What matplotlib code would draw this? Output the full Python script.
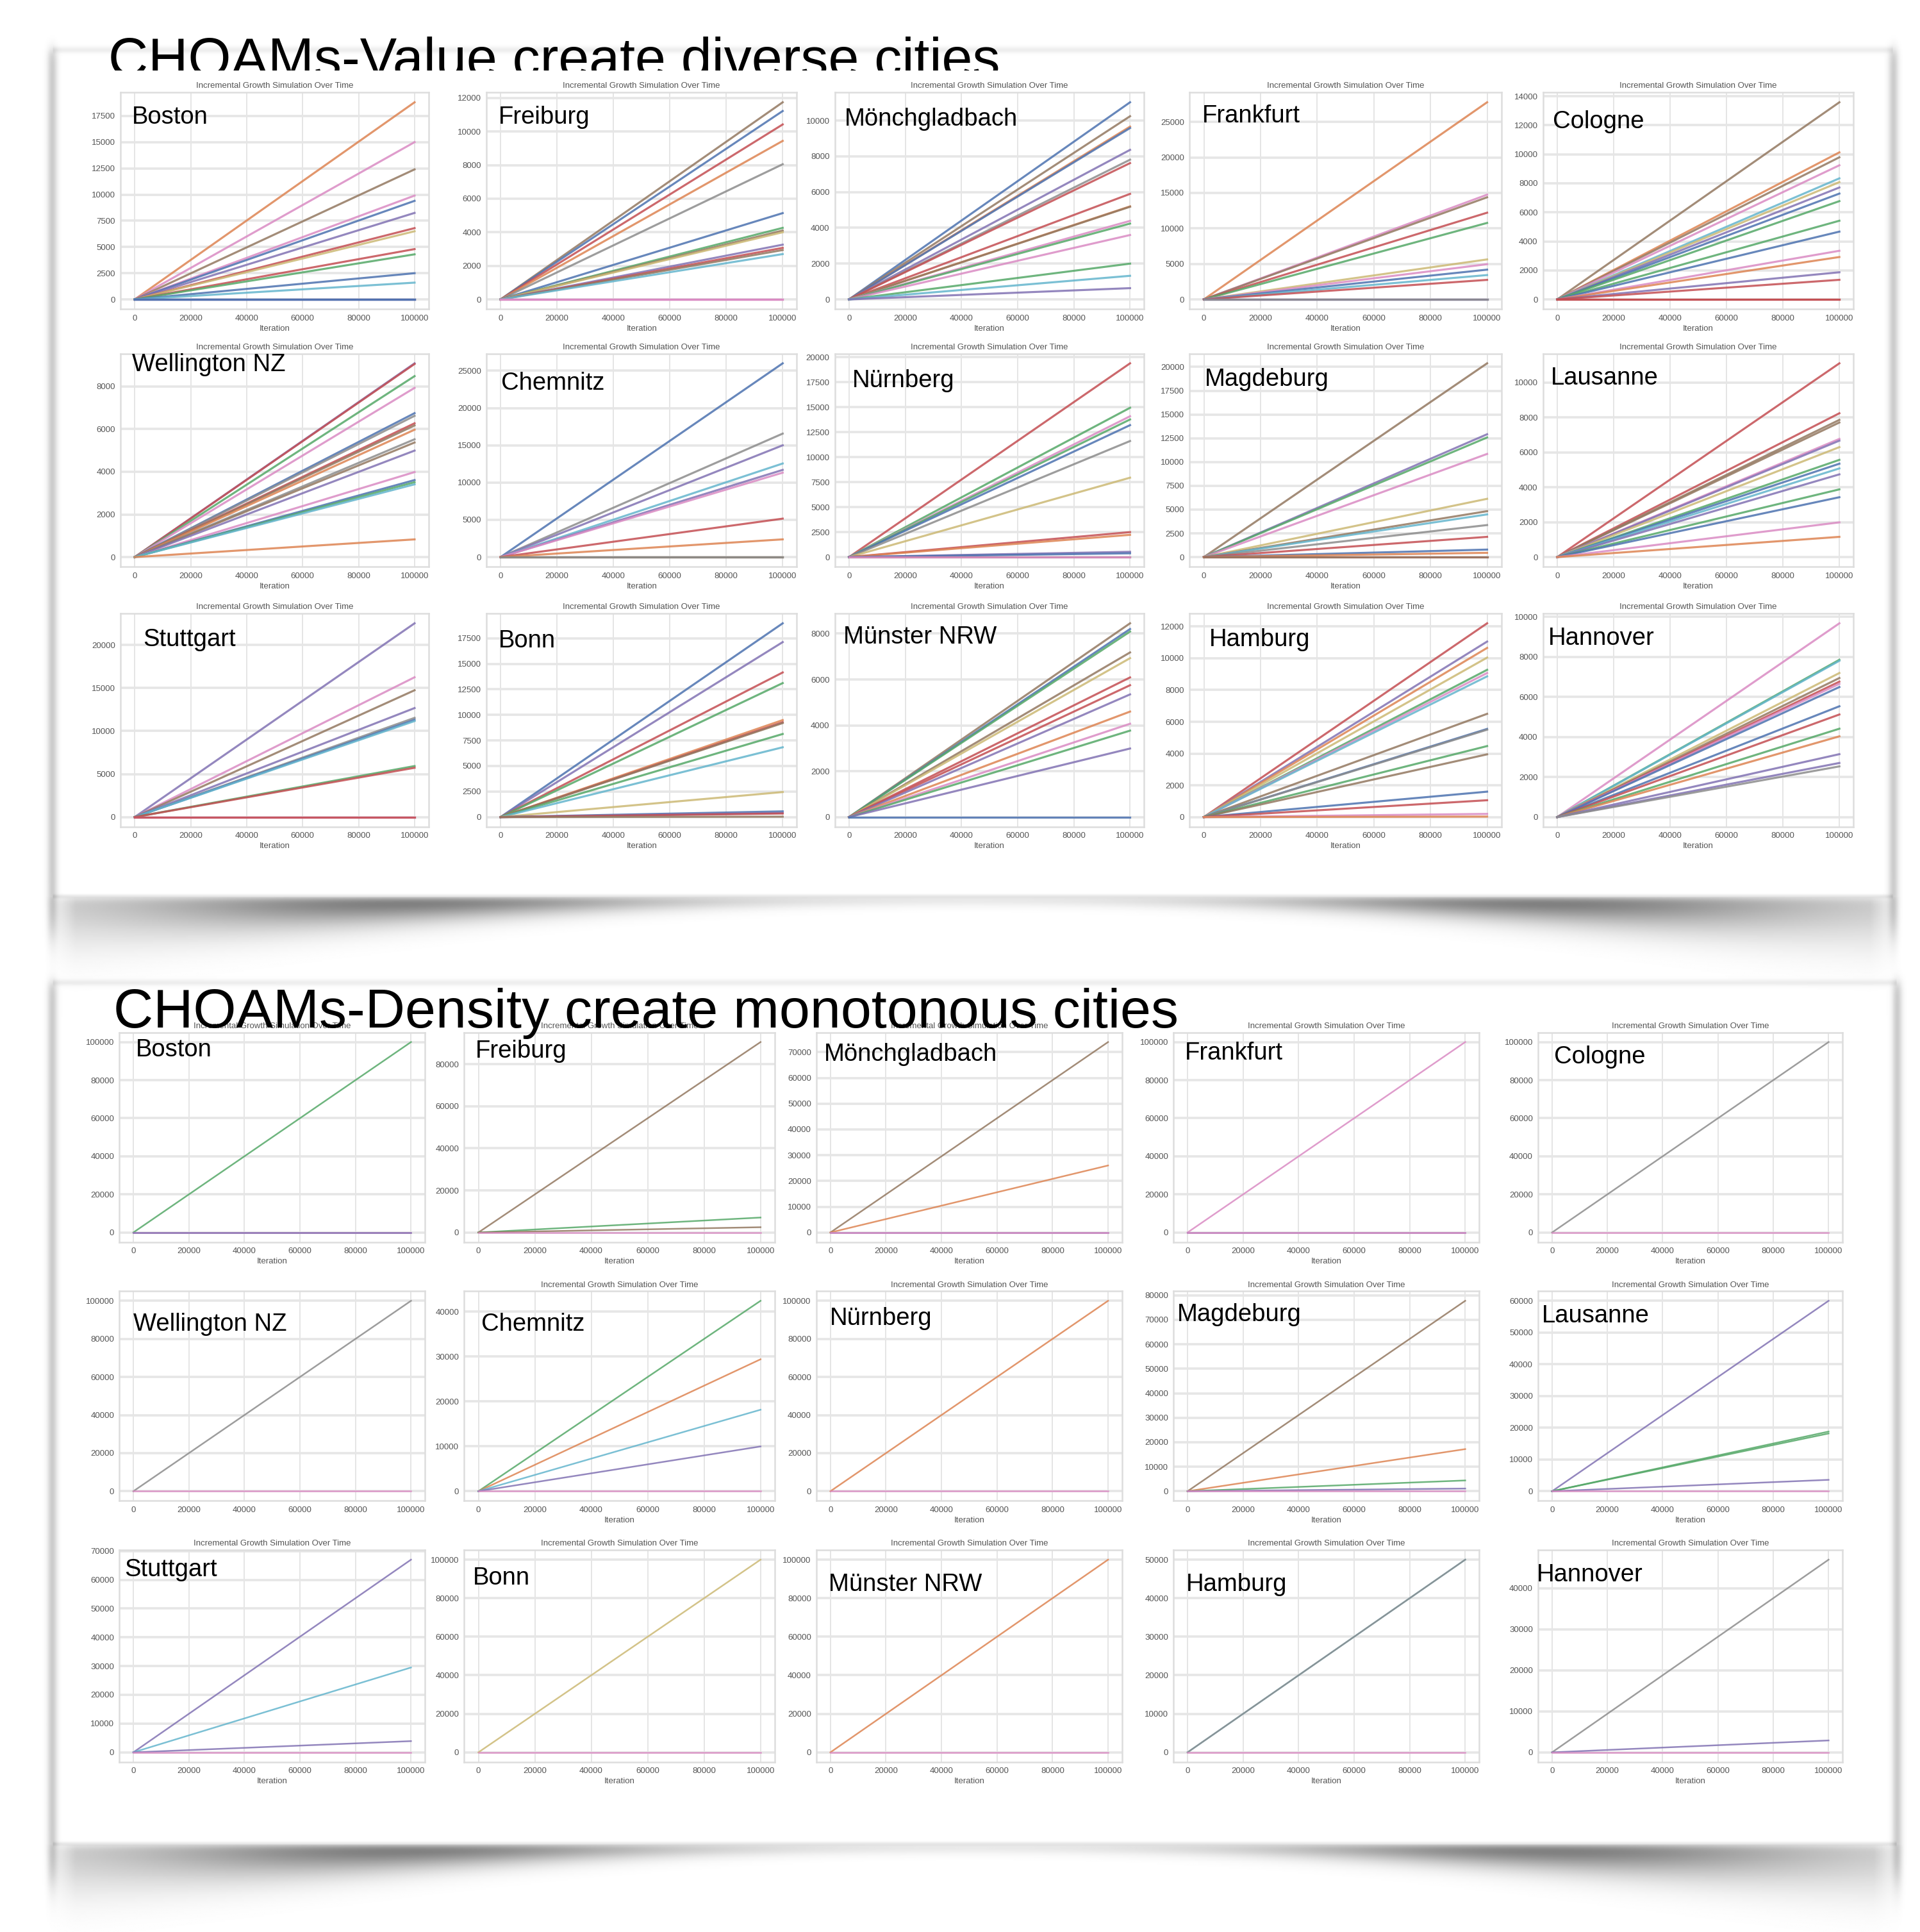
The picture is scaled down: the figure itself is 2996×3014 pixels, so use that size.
import matplotlib
matplotlib.use("Agg")
import matplotlib.pyplot as plt
import numpy as np
from matplotlib.transforms import Bbox, TransformedBbox

plt.rcParams['font.family'] = ['Liberation Sans', 'DejaVu Sans']

# layout is measured on a screen-size copy of the picture (W x H), converted below
W, H = 1559.0, 1568.0

# seaborn "deep" colours, one letter each
PAL = {'b': '#4C72B0', 'o': '#DD8452', 'g': '#55A868', 'r': '#C44E52', 'p': '#8172B3',
       'n': '#937860', 'k': '#DA8BC3', 'a': '#8C8C8C', 'y': '#CCB974', 'c': '#64B5CD'}

iterations = [0, 100000]

cities = ["Boston", "Freiburg", "Mönchgladbach", "Frankfurt", "Cologne",
          "Wellington NZ", "Chemnitz", "Nürnberg", "Magdeburg", "Lausanne",
          "Stuttgart", "Bonn", "Münster NRW", "Hamburg", "Hannover"]

title_value = "CHOAMs-Value create diverse cities"
title_density = "CHOAMs-Density create monotonous cities"

# ---- CHOAMs-Value : value of every line at the last iteration + its colour
boston_v = [18800, 15000, 12400, 9900, 9400, 8250, 6800, 6500, 4800, 4300, 2500, 1600, 0, 0, 0, 0]
boston_vc = "oknkbpryrgbcpbpb"
freiburg_v = [11740, 11220, 10420, 9440, 8050, 5140, 4260, 4100, 4000, 3260, 3070, 2940, 2700, 0, 0, 0]
freiburg_vc = "nbroabgnyprnckkk"
monch_v = [11020, 10240, 9660, 9580, 8360, 7810, 7620, 5900, 5200, 5180, 4390, 4240, 3600, 2000, 1320, 630]
monch_vc = "bnobparronkgkgcp"
frankfurt_v = [27760, 14750, 14380, 12210, 10770, 5630, 4960, 4190, 3430, 2750, 0, 0, 0]
frankfurt_vc = "oknrgykbcrppa"
cologne_v = [13580, 10130, 9790, 9240, 8340, 8080, 7710, 7290, 6770, 5420, 4670, 3350, 2920, 1870, 1350, 0, 0]
cologne_vc = "nonkcypbggbkoprrr"
wellington_v = [9080, 9050, 8480, 7930, 6745, 6620, 6270, 6170, 5970, 5520, 5370, 4990, 3985, 3610, 3510, 3410, 830]
wellington_vc = "prgkbarnoanpkbgco"
chemnitz_v = [26000, 16570, 15000, 12560, 11700, 11330, 5160, 2380, 0, 0, 0]
chemnitz_vc = "bapcpkronna"
nurnberg_v = [19400, 14950, 14100, 13780, 13210, 11620, 7950, 2500, 2230, 530, 380, 0, 0]
nurnberg_vc = "rgkgbayropbnk"
magdeburg_v = [20380, 12920, 12580, 10850, 6130, 4830, 4490, 3370, 2130, 790, 450, 0, 0]
magdeburg_vc = "npgkyncarborn"
lausanne_v = [11100, 8240, 7860, 7710, 6770, 6670, 6300, 5570, 5350, 5080, 4740, 3880, 3430, 1990, 1160]
lausanne_vc = "rrnnkpygbcpgbko"
stuttgart_v = [22520, 16250, 14740, 12670, 11530, 11310, 11160, 5930, 5730, 0, 0, 0]
stuttgart_vc = "pknpabcgrkkr"
bonn_v = [18960, 17120, 14150, 13110, 9490, 9280, 9200, 8130, 6830, 2450, 560, 400, 350, 40]
bonn_vc = "bprgorngcybprn"
munster_v = [8450, 8200, 8090, 7180, 6930, 6090, 5750, 5350, 4600, 4070, 3770, 2990, 0]
munster_vc = "nbgnyrrpokgpb"
hamburg_v = [12200, 11050, 10650, 10040, 9270, 9070, 8860, 6500, 5550, 5500, 4470, 3950, 1600, 1060, 200, 30]
hamburg_vc = "rpoygkcnbagnbrko"
hannover_v = [9670, 7850, 7800, 7190, 6940, 6760, 6650, 6490, 5530, 5120, 4410, 4030, 3140, 2700, 2530]
hannover_vc = "kgcynrkbbrgoppa"

# ---- CHOAMs-Density
boston_d = [100000, 0, 0]
boston_dc = "gkp"
freiburg_d = [90500, 7100, 2500, 0]
freiburg_dc = "ngnk"
monch_d = [73900, 26000, 0, 0]
monch_dc = "nopk"
frankfurt_d = [100000, 0, 0]
frankfurt_dc = "kpk"
cologne_d = [100000, 0]
cologne_dc = "ak"
wellington_d = [100000, 0]
wellington_dc = "ak"
chemnitz_d = [42430, 29400, 18160, 9980, 0]
chemnitz_dc = "gocpk"
nurnberg_d = [100000, 0]
nurnberg_dc = "ok"
magdeburg_d = [77750, 17200, 4400, 1100, 0]
magdeburg_dc = "nogpk"
lausanne_d = [60000, 18800, 18200, 3590, 0]
lausanne_dc = "pggpk"
stuttgart_d = [67000, 29500, 3900, 0]
stuttgart_dc = "pcpk"
bonn_d = [100000, 0]
bonn_dc = "yk"
munster_d = [100000, 0]
munster_dc = "ok"
hamburg_d = [50000, 50000, 0]
hamburg_dc = "cak"
hannover_d = [47000, 2900, 0]
hannover_dc = "apk"

value_ends = [boston_v, freiburg_v, monch_v, frankfurt_v, cologne_v,
              wellington_v, chemnitz_v, nurnberg_v, magdeburg_v, lausanne_v,
              stuttgart_v, bonn_v, munster_v, hamburg_v, hannover_v]
value_cols = [boston_vc, freiburg_vc, monch_vc, frankfurt_vc, cologne_vc,
              wellington_vc, chemnitz_vc, nurnberg_vc, magdeburg_vc, lausanne_vc,
              stuttgart_vc, bonn_vc, munster_vc, hamburg_vc, hannover_vc]
density_ends = [boston_d, freiburg_d, monch_d, frankfurt_d, cologne_d,
                wellington_d, chemnitz_d, nurnberg_d, magdeburg_d, lausanne_d,
                stuttgart_d, bonn_d, munster_d, hamburg_d, hannover_d]
density_cols = [boston_dc, freiburg_dc, monch_dc, frankfurt_dc, cologne_dc,
                wellington_dc, chemnitz_dc, nurnberg_dc, magdeburg_dc, lausanne_dc,
                stuttgart_dc, bonn_dc, munster_dc, hamburg_dc, hannover_dc]

# ---- layout (screen coords of the reference)
top_cols = [(98, 348), (395, 647), (678, 929), (966, 1219), (1253, 1505)]
top_rows = [(75, 251), (287, 460), (498, 671)]
bot_cols = [(97, 345), (377, 629), (663, 911), (953, 1201), (1249, 1496)]
bot_rows = [(838, 1008), (1048, 1218), (1258, 1430)]
top_labels = [(107, 95), (405, 95), (686, 97), (976, 94), (1261, 99),
              (107, 296), (407, 311), (692, 309), (978, 308), (1259, 307),
              (116, 519), (405, 520), (685, 517), (982, 519), (1257, 518)]
bot_labels = [(110, 852), (386, 853), (669, 856), (962, 855), (1262, 858),
              (108, 1075), (391, 1075), (674, 1070), (956, 1067), (1252, 1068),
              (101, 1274), (384, 1281), (673, 1286), (963, 1286), (1248, 1278)]
cards = [(42, 1537, 40, 727), (42, 1540, 797, 1496)]


def fx(x):
    return x / W


def fy(y):
    return 1 - y / H


def background(fig):
    # white cards with the soft curved drop shadow under them
    yy, xx = np.mgrid[0:H, 0:W]
    img = np.ones_like(xx, dtype=float)
    for (x0, x1, y0, y1) in cards:
        vmask = 1 / (1 + np.exp(-(yy - y0) / 3.0)) * 1 / (1 + np.exp((yy - y1 - 30) / 8.0))
        side = np.exp(-((xx - x0) / 4.0) ** 2) + np.exp(-((xx - x1) / 4.0) ** 2)
        img -= 0.2 * side * vmask
        hmask = (xx > x0) & (xx < x1)
        img -= 0.07 * np.exp(-((yy - y0) / 2.5) ** 2) * hmask
        xc = (x0 + x1) / 2
        hw = (x1 - x0) / 2 + 6
        u = (xx - xc) / hw
        t = 8 + 40 * u ** 2
        dark = 0.14 + 0.46 * np.exp(-((np.abs(u) - 0.6) / 0.28) ** 2)
        dy = np.clip(yy - y1, 0, None)
        ramp = 1 - np.exp(-dy / 2.5)
        edge = np.clip((1 - np.abs(u)) * 30, 0, 1)
        sh = dark * np.exp(-1.4 * (dy / t) ** 2) * ramp * edge
        img -= sh
        # thin grey rim where the card ends
        img -= 0.1 * np.exp(-((yy - y1) / 1.5) ** 2) * hmask
    img = np.clip(img, 0, 1)
    bg = fig.add_axes([0, 0, 1, 1])
    bg.imshow(img, cmap='gray', vmin=0, vmax=1, extent=(0, W, H, 0),
              interpolation='bilinear', aspect='auto')
    bg.set_xlim(0, W)
    bg.set_ylim(H, 0)
    bg.axis('off')


def draw_panel(fig, box, ends, cols, lw, title=True, xlabel=True):
    x0, x1, y0, y1 = box
    ax = fig.add_axes([fx(x0), fy(y1), (x1 - x0) / W, (y1 - y0) / H])
    for e, c in zip(ends, cols):
        ax.plot(iterations, [0, e], color=PAL[c], lw=lw, alpha=0.85)
    ax.set_facecolor('white')
    ax.grid(True, axis='y', color='#e6e6e6', lw=2.6)
    ax.grid(True, axis='x', color='#e3e3e3', lw=1.3)
    ax.set_axisbelow(True)
    for s in ax.spines.values():
        s.set_color('#dddddd')
        s.set_linewidth(1.8)
    ax.tick_params(length=0, labelsize=9.5, labelcolor='#555555', pad=6)
    if title:
        ax.set_title('Incremental Growth Simulation Over Time', fontsize=9.5,
                     color='#555555', pad=5)
    if xlabel:
        ax.set_xlabel('Iteration', fontsize=9.5, color='#555555', labelpad=3)
    return ax


def main():
    fig = plt.figure(figsize=(29.96, 30.14), dpi=100)
    fig.patch.set_facecolor('white')
    background(fig)

    # top card: CHOAMs-Value
    for i in range(15):
        r, c = divmod(i, 5)
        box = (top_cols[c][0], top_cols[c][1], top_rows[r][0], top_rows[r][1])
        draw_panel(fig, box, value_ends[i], value_cols[i], lw=2.3)
        lx, ly = top_labels[i]
        fig.text(fx(lx), fy(ly), cities[i], fontsize=27.5, va='center', color='black', zorder=5)

    # bottom card: CHOAMs-Density (Wellington screenshot had no title / xlabel)
    for i in range(15):
        r, c = divmod(i, 5)
        box = (bot_cols[c][0], bot_cols[c][1], bot_rows[r][0], bot_rows[r][1])
        keep = cities[i] != "Wellington NZ"
        draw_panel(fig, box, density_ends[i], density_cols[i], lw=1.8, title=keep, xlabel=keep)
        lx, ly = bot_labels[i]
        fig.text(fx(lx), fy(ly), cities[i], fontsize=27.5, va='center', color='black', zorder=5)

    # big titles; the upper one is cut off by the card like in the screenshot
    t1 = fig.text(fx(88), fy(62), title_value, fontsize=62, va='baseline', color='black', zorder=6)
    t1.set_clip_box(TransformedBbox(Bbox.from_extents(0, fy(57), 1, 1), fig.transFigure))
    t1.set_clip_on(True)
    fig.text(fx(92), fy(834), title_density, fontsize=62, va='baseline', color='black', zorder=6)

    fig.savefig('out.png', dpi=100, facecolor='white')


main()
